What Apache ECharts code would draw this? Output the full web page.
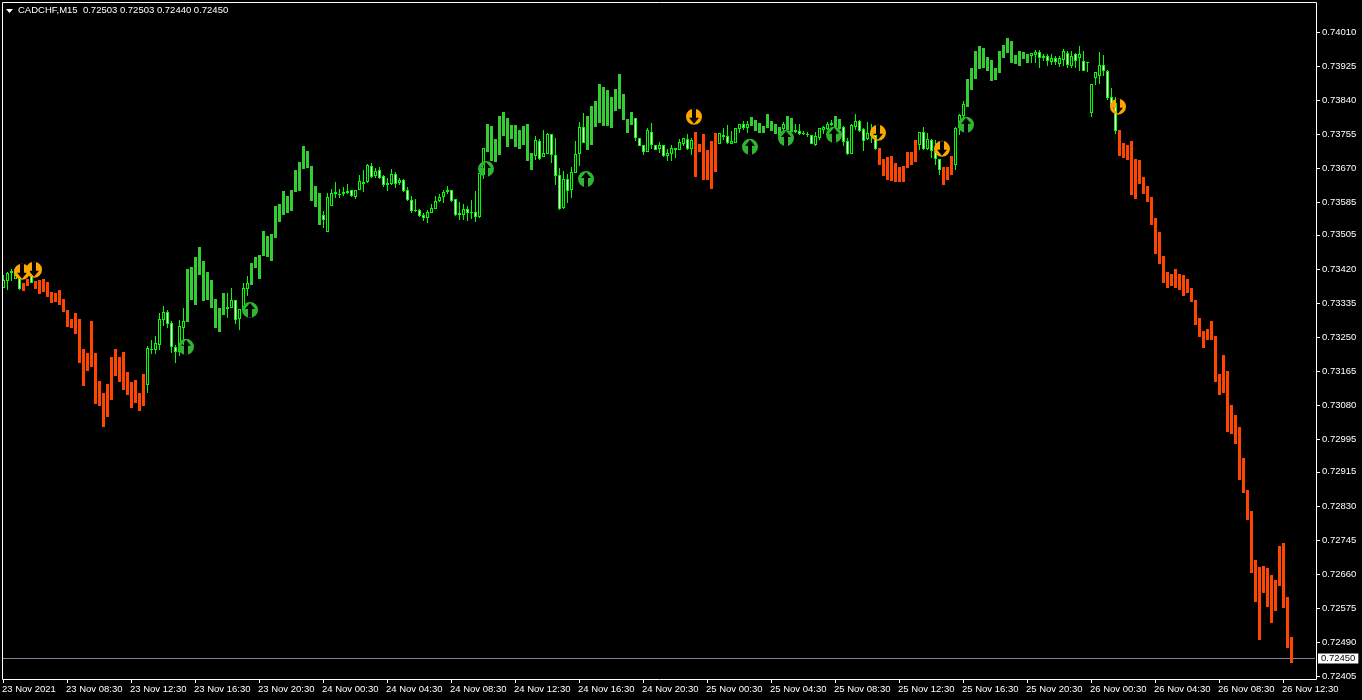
<!DOCTYPE html>
<html>
<head>
<meta charset="utf-8">
<style>html,body{margin:0;padding:0;background:#000}#c{width:1362px;height:700px}</style>
<script src="https://cdn.jsdelivr.net/npm/echarts@6/dist/echarts.min.js"></script>
</head>
<body>
<div id="c"></div>
<script>
// Bar style per M15 bar: G solid green, R solid orange-red, H hollow candle, W white-filled candle
const barKinds = (
  "HHHHWRRWRR" + "R".repeat(26) + "HHHHHWWWHH" + "G".repeat(10) + "HHWHHH" + "G".repeat(18) +
  "WHHHHHHWHHHHWHWWHHWHWWWHWWHHHHHHWWHHWHWHH" + "G".repeat(12) + "HWHHWWWHWHHHW" + "G".repeat(12) +
  "WWWHWWHWHHHHHWH" + "R".repeat(6) + "HHWHHHWH" + "G".repeat(8) + "H" + "GG" + "HWHHWHHHHH" + "GG" +
  "WWHHWWHHW" + "R".repeat(10) + "HWHWWW" + "RRR" + "HHH" + "G".repeat(16) +
  "HHWHWHWHHWHWHWHHHHWWWW" + "R".repeat(44)
).split("");

// Body upper edge of each bar, in 1/100000
const bodyTop = [
73393,73411,73416,73413,73398,73386,73395,73403,73391,73393,
73395,73388,73363,73361,73368,73346,73318,73296,73311,73296,
73221,73211,73291,73211,73141,73111,73134,73201,73221,73201,
73214,73164,73139,73144,73111,73159,73224,73221,73236,73296,
73313,73313,73286,73226,73278,73291,73420,73425,73450,73475,
73440,73413,73393,73346,73323,73361,73326,73343,73343,73321,
73373,73386,73435,73450,73455,73515,73502,73507,73577,73582,
73614,73602,73617,73667,73687,73726,73714,73677,73627,73609,
73555,73600,73609,73612,73607,73612,73614,73617,73617,73639,
73637,73679,73677,73664,73667,73652,73634,73657,73657,73642,
73642,73617,73592,73567,73567,73555,73562,73572,73589,73600,
73612,73617,73617,73595,73560,73570,73570,73562,73562,73659,
73721,73781,73776,73744,73801,73811,73796,73779,73779,73766,
73776,73781,73709,73741,73739,73709,73756,73756,73704,73654,
73644,73644,73662,73707,73774,73774,73801,73826,73838,73881,
73873,73866,73848,73868,73906,73856,73794,73811,73796,73746,
73729,73766,73761,73729,73729,73729,73709,73721,73721,73736,
73746,73744,73741,73761,73731,73756,73716,73739,73759,73759,
73754,73751,73739,73771,73781,73781,73781,73799,73791,73784,
73776,73806,73789,73781,73774,73781,73801,73796,73766,73764,
73759,73756,73754,73751,73771,73774,73781,73784,73801,73794,
73774,73739,73779,73789,73789,73769,73759,73761,73754,73721,
73694,73699,73702,73684,73674,73677,73712,73712,73741,73761,
73761,73744,73741,73714,73694,73674,73674,73702,73771,73804,
73831,73893,73921,73963,73975,73970,73948,73941,73921,73963,
73978,73995,73988,73953,73963,73961,73956,73958,73961,73961,
73951,73951,73946,73946,73946,73963,73958,73951,73956,73956,
73938,73936,73881,73911,73928,73928,73913,73848,73834,73766,
73734,73729,73739,73694,73692,73649,73627,73600,73547,73512,
73453,73413,73408,73420,73408,73405,73395,73373,73343,73298,
73266,73271,73291,73253,73159,73206,73166,73082,73057,73027,
72950,72870,72818,72696,72678,72681,72676,72658,72646,72731,
72738,72603,72504
];

// Body lower edge of each bar
const bodyBottom = [
73373,73391,73411,73395,73370,73366,73378,73386,73370,73358,
73363,73351,73336,73338,73331,73313,73276,73273,73258,73187,
73129,73167,73177,73084,73079,73027,73052,73094,73154,73139,
73119,73107,73074,73087,73067,73079,73131,73219,73219,73231,
73293,73283,73226,73214,73214,73273,73288,73343,73331,73405,
73341,73343,73323,73273,73263,73306,73321,73323,73293,73296,
73321,73370,73381,73423,73395,73453,73450,73440,73497,73537,
73555,73560,73565,73612,73614,73669,73672,73589,73575,73530,
73542,73512,73577,73607,73604,73607,73609,73602,73600,73617,
73632,73637,73649,73652,73647,73629,73629,73632,73632,73634,
73614,73592,73565,73565,73552,73547,73547,73560,73570,73589,
73600,73612,73589,73555,73555,73555,73560,73560,73550,73550,
73654,73712,73689,73687,73704,73751,73724,73744,73724,73719,
73729,73689,73667,73702,73694,73699,73707,73704,73652,73570,
73572,73614,73617,73659,73707,73734,73716,73729,73774,73784,
73776,73776,73771,73814,73819,73791,73759,73779,73746,73726,
73712,73712,73729,73716,73719,73702,73702,73707,73716,73716,
73731,73719,73719,73649,73712,73642,73642,73619,73662,73731,
73749,73734,73731,73734,73769,73771,73771,73776,73764,73759,
73759,73771,73764,73756,73751,73769,73766,73761,73761,73756,
73756,73754,73731,73729,73746,73766,73769,73779,73774,73769,
73736,73707,73707,73774,73764,73739,73744,73751,73719,73679,
73652,73642,73639,73637,73637,73637,73672,73679,73687,73729,
73719,73719,73714,73694,73667,73629,73642,73654,73679,73771,
73801,73824,73866,73893,73918,73921,73913,73888,73891,73908,
73946,73958,73933,73931,73926,73943,73933,73951,73953,73946,
73946,73938,73936,73936,73931,73941,73928,73926,73938,73946,
73913,73933,73809,73896,73901,73913,73846,73829,73764,73702,
73697,73692,73604,73594,73632,73607,73587,73530,73458,73433,
73386,73373,73378,73373,73368,73353,73361,73338,73281,73251,
73224,73243,73243,73139,73107,73111,73014,73009,72984,72895,
72862,72795,72663,72591,72496,72613,72579,72539,72569,72631,
72576,72477,72439
];

// Wick extremes, for hollow and white candles only, in order of appearance
const wickHigh = [
73405,73413,73420,73418,73398,73408,73229,73243,73253,73311,73328,73318,73291,73231,73293,73323,
73361,73373,73343,73321,73386,73403,
73565,73609,73619,73637,73619,73624,73632,73617,73617,73654,73667,73682,73684,73672,73674,73654,73647,73669,73662,73647,73644,
73624,73602,73595,73570,73560,73567,73582,73602,73607,73617,73627,73617,73595,73587,73582,73577,73592,73614,73659,73721,
73751,73744,73766,73759,73756,73746,73672,73664,73657,73674,73739,73786,73809,
73796,73746,73729,73771,73784,73729,73736,73729,73719,73729,73721,73744,73746,73756,73746,
73759,73771,73779,73764,73771,73781,73789,73789,
73786,
73781,73781,73764,73761,73754,73761,73771,73776,73786,73791,
73776,73746,73781,73806,73791,73771,73786,73781,73754,
73761,73774,73759,73744,73741,73694,
73774,73806,73838,
73958,73966,73966,73956,73956,73956,73951,73951,73968,73963,73963,73958,73975,73963,73936,73881,73911,73961,73953,73916,73871,73848
];
const wickLow = [
73373,73368,73391,73395,73368,73386,73111,73209,73209,73219,73278,73273,73211,73187,73204,73231,
73298,73323,73283,73268,73321,73353,
73522,73512,73577,73597,73597,73602,73607,73600,73595,73617,73612,73634,73647,73647,73644,73624,73614,73629,73622,73629,73612,
73589,73560,73562,73550,73540,73535,73560,73570,73587,73585,73607,73587,73552,73542,73542,73540,73545,73537,73547,73644,
73692,73692,73699,73707,73684,73629,73567,73570,73585,73597,73659,73677,73734,
73739,73726,73704,73712,73719,73716,73709,73699,73689,73689,73697,73716,73726,73716,73704,
73731,73741,73731,73731,73734,73759,73766,73759,
73761,
73759,73754,73754,73749,73731,73726,73741,73756,73766,73776,
73726,73704,73707,73766,73761,73714,73741,73734,73716,
73716,73716,73716,73697,73679,73654,
73667,73754,73794,
73933,73933,73921,73938,73926,73928,73928,73923,73926,73921,73921,73921,73913,73913,73911,73799,73878,73881,73901,73841,73829,73756
];

// Signal markers: bar index and price level
const buyBars = [46, 62, 121, 146, 187, 196, 208, 241];
const buyPrices = [73226, 73318, 73669, 73644, 73724, 73746, 73754, 73779];
const sellBars = [5, 8, 173, 219, 235, 279];
const sellPrices = [73413, 73418, 73799, 73759, 73719, 73824];

const timeLabels = [
"23 Nov 2021","23 Nov 08:30","23 Nov 12:30","23 Nov 16:30","23 Nov 20:30","24 Nov 00:30","24 Nov 04:30",
"24 Nov 08:30","24 Nov 12:30","24 Nov 16:30","24 Nov 20:30","25 Nov 00:30","25 Nov 04:30","25 Nov 08:30",
"25 Nov 12:30","25 Nov 16:30","25 Nov 20:30","26 Nov 00:30","26 Nov 04:30","26 Nov 08:30","26 Nov 12:30"
];
const priceTicks = [
0.74010,0.73925,0.73840,0.73755,0.73670,0.73585,0.73505,0.73420,0.73335,0.73250,
0.73165,0.73080,0.72995,0.72915,0.72830,0.72745,0.72660,0.72575,0.72490,0.72405
];
const lastPrice = 0.72450;
const headerText = "CADCHF,M15  0.72503 0.72503 0.72440 0.72450";

const SLOTS = 329;
const FONT = "Liberation Sans";
const categories = Array.from({length: SLOTS}, (_, i) => String(i));
const px = v => v / 100000;

let w = 0;
const ohlc = barKinds.map((k, i) => {
  let hi = bodyTop[i], lo = bodyBottom[i];
  if (k === "H" || k === "W") { hi = wickHigh[w]; lo = wickLow[w]; w++; }
  return [i, px(bodyBottom[i]), px(bodyTop[i]), px(lo), px(hi)];
});

const SOLID = {G: "#32CD32", R: "#FF4500"};
const LIME = "#00FF00";
function renderBar(params, api) {
  const i = api.value(0);
  const kind = barKinds[i];
  const cx = Math.round(api.coord([i, api.value(2)])[0]);
  const top = Math.round(api.coord([i, api.value(2)])[1]);
  const bot = Math.max(top + 1, Math.round(api.coord([i, api.value(1)])[1]));
  const kids = [];
  const box = (x, y, wd, h, fill) => kids.push({type: "rect", shape: {x, y, width: wd, height: h}, style: {fill}});
  if (SOLID[kind]) {
    box(cx - 1, top, 3, bot - top, SOLID[kind]);
  } else {
    const hiY = Math.round(api.coord([i, api.value(4)])[1]);
    const loY = Math.round(api.coord([i, api.value(3)])[1]);
    box(cx, Math.min(hiY, top), 1, Math.max(loY, bot) - Math.min(hiY, top), LIME);
    box(cx - 1, top, 3, bot - top, LIME);
    if (bot - top > 2) box(cx, top + 1, 1, bot - top - 2, kind === "W" ? "#fff" : "#000");
  }
  return {type: "group", children: kids};
}

// Disc with an arrow notched out (opposite winding)
const upIcon = "path://M-8 0A8 8 0 1 1 8 0A8 8 0 1 1 -8 0ZM-2 7.7L2 7.7L2 -1L5 -1L0 -7L-5 -1L-2 -1Z";
const downIcon = "path://M-8 0A8 8 0 1 1 8 0A8 8 0 1 1 -8 0ZM2 -7.7L-2 -7.7L-2 1L-5 1L0 7L5 1L2 1Z";
const marks = (name, bars, prices, symbol, color) => ({
  name, type: "scatter", symbol, symbolSize: 16, symbolOffset: [-1, 0],
  data: bars.map((b, i) => [String(b), px(prices[i])]),
  itemStyle: {color, opacity: 1}, z: 5, animation: false, silent: true
});

const chart = echarts.init(document.getElementById("c"), null, {renderer: "canvas"});
chart.setOption({
  backgroundColor: "#000",
  animation: false,
  title: {text: headerText, left: 18, top: 5, padding: 0, textStyle: {color: "#fff", fontFamily: FONT, fontSize: 9.5, fontWeight: "normal"}},
  graphic: [
    {type: "rect", silent: true, z: 10, shape: {x: 2.5, y: 2.5, width: 1314, height: 677}, style: {fill: null, stroke: "#fff", lineWidth: 1}},
    {type: "polygon", silent: true, z: 10, shape: {points: [[6, 9], [13, 9], [9.5, 13]]}, style: {fill: "#fff"}}
  ],
  grid: {left: 1, width: 1316, top: 2, height: 678, show: false, outerBoundsMode: "none"},
  xAxis: {
    type: "category", data: categories, boundaryGap: true,
    axisLine: {show: false},
    axisTick: {show: true, interval: 15, alignWithLabel: true, length: 3, lineStyle: {color: "#fff"}},
    axisLabel: {interval: 15, align: "left", margin: 4, padding: [0, 0, 0, -1], color: "#fff", fontFamily: FONT, fontSize: 9.5,
      formatter: (v, i) => timeLabels[i / 16] || ""},
    splitLine: {show: false}
  },
  yAxis: {
    type: "value", position: "right", scale: true,
    min: 0.723965, max: 0.740847,
    axisLine: {show: false},
    axisTick: {show: true, length: 3, lineStyle: {color: "#fff"}, customValues: priceTicks},
    axisLabel: {margin: 5, color: "#fff", fontFamily: FONT, fontSize: 9.5, customValues: priceTicks, formatter: v => v.toFixed(5)},
    splitLine: {show: false}
  },
  series: [
    {
      name: "Last price", type: "line", data: categories.map(() => lastPrice), showSymbol: false, symbol: "none",
      lineStyle: {color: "#778899", width: 1}, silent: true, animation: false, z: 1,
      endLabel: {show: true, formatter: lastPrice.toFixed(5), distance: 3, color: "#000", backgroundColor: "#fff",
        fontFamily: FONT, fontSize: 9.5, padding: [0, 3, 0, 3]}
    },
    {
      name: "CADCHF", type: "custom", data: ohlc, renderItem: renderBar, clip: false,
      encode: {x: 0, y: [1, 2, 3, 4]}, animation: false, silent: true, z: 2
    },
    marks("Buy", buyBars, buyPrices, upIcon, "#2FB52F"),
    marks("Sell", sellBars, sellPrices, downIcon, "#FFA500")
  ]
});
</script>
</body>
</html>
